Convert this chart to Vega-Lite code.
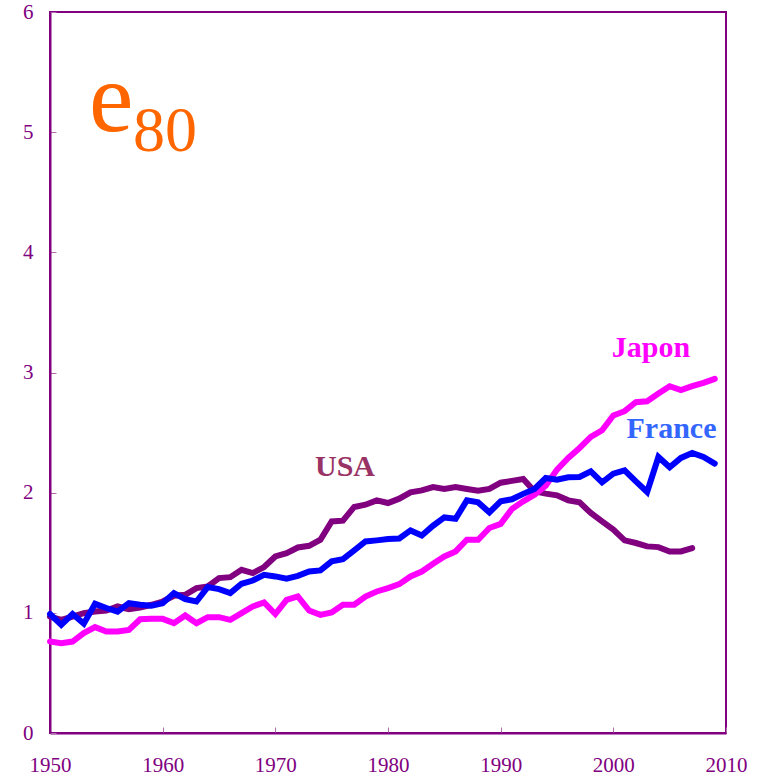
{
  "$schema": "https://vega.github.io/schema/vega-lite/v6.json",
  "width": 676,
  "height": 721,
  "autosize": {"type": "none"},
  "padding": {"left": 50, "top": 12, "right": 34, "bottom": 43},
  "background": "white",
  "config": {
    "view": {"stroke": "#800080", "strokeWidth": 2},
    "axis": {
      "labelFont": "Liberation Serif",
      "labelFontSize": 21,
      "labelColor": "#800080",
      "labelFlush": false,
      "labelOverlap": false,
      "domainColor": "#800080",
      "domainWidth": 2,
      "tickColor": "#b070b0",
      "tickWidth": 1,
      "tickSize": -6,
      "grid": false,
      "title": null
    }
  },
  "datasets": {
    "e": [
      {"year":1950,"France":0.99,"Japon":0.761,"USA":0.969},
      {"year":1951,"France":0.90,"Japon":0.747,"USA":0.942},
      {"year":1952,"France":0.99,"Japon":0.761,"USA":0.969},
      {"year":1953,"France":0.91,"Japon":0.831,"USA":0.997},
      {"year":1954,"France":1.075,"Japon":0.881,"USA":1.011},
      {"year":1955,"France":1.04,"Japon":0.845,"USA":1.019},
      {"year":1956,"France":1.01,"Japon":0.845,"USA":1.053},
      {"year":1957,"France":1.08,"Japon":0.858,"USA":1.031},
      {"year":1958,"France":1.067,"Japon":0.947,"USA":1.044},
      {"year":1959,"France":1.06,"Japon":0.95,"USA":1.067},
      {"year":1960,"France":1.08,"Japon":0.95,"USA":1.094},
      {"year":1961,"France":1.164,"Japon":0.914,"USA":1.142},
      {"year":1962,"France":1.114,"Japon":0.978,"USA":1.15},
      {"year":1963,"France":1.094,"Japon":0.914,"USA":1.206},
      {"year":1964,"France":1.214,"Japon":0.964,"USA":1.219},
      {"year":1965,"France":1.197,"Japon":0.964,"USA":1.289},
      {"year":1966,"France":1.164,"Japon":0.942,"USA":1.297},
      {"year":1967,"France":1.242,"Japon":0.997,"USA":1.358},
      {"year":1968,"France":1.269,"Japon":1.053,"USA":1.331},
      {"year":1969,"France":1.317,"Japon":1.086,"USA":1.381},
      {"year":1970,"France":1.303,"Japon":0.99,"USA":1.469},
      {"year":1971,"France":1.285,"Japon":1.108,"USA":1.497},
      {"year":1972,"France":1.308,"Japon":1.136,"USA":1.544},
      {"year":1973,"France":1.344,"Japon":1.019,"USA":1.558},
      {"year":1974,"France":1.353,"Japon":0.983,"USA":1.608},
      {"year":1975,"France":1.428,"Japon":1.003,"USA":1.761},
      {"year":1976,"France":1.447,"Japon":1.067,"USA":1.767},
      {"year":1977,"France":1.519,"Japon":1.067,"USA":1.881},
      {"year":1978,"France":1.594,"Japon":1.136,"USA":1.9},
      {"year":1979,"France":1.603,"Japon":1.178,"USA":1.936},
      {"year":1980,"France":1.614,"Japon":1.206,"USA":1.914},
      {"year":1981,"France":1.619,"Japon":1.239,"USA":1.95},
      {"year":1982,"France":1.686,"Japon":1.303,"USA":2.003},
      {"year":1983,"France":1.644,"Japon":1.344,"USA":2.019},
      {"year":1984,"France":1.725,"Japon":1.408,"USA":2.047},
      {"year":1985,"France":1.794,"Japon":1.469,"USA":2.031},
      {"year":1986,"France":1.783,"Japon":1.511,"USA":2.047},
      {"year":1987,"France":1.936,"Japon":1.608,"USA":2.031},
      {"year":1988,"France":1.919,"Japon":1.608,"USA":2.017},
      {"year":1989,"France":1.836,"Japon":1.706,"USA":2.031},
      {"year":1990,"France":1.928,"Japon":1.74,"USA":2.083},
      {"year":1991,"France":1.945,"Japon":1.865,"USA":2.098},
      {"year":1992,"France":1.99,"Japon":1.928,"USA":2.114},
      {"year":1993,"France":2.031,"Japon":1.983,"USA":2.011},
      {"year":1994,"France":2.122,"Japon":2.058,"USA":1.992},
      {"year":1995,"France":2.108,"Japon":2.192,"USA":1.978},
      {"year":1996,"France":2.128,"Japon":2.289,"USA":1.936},
      {"year":1997,"France":2.131,"Japon":2.372,"USA":1.919},
      {"year":1998,"France":2.178,"Japon":2.464,"USA":1.831},
      {"year":1999,"France":2.086,"Japon":2.519,"USA":1.761},
      {"year":2000,"France":2.158,"Japon":2.642,"USA":1.692},
      {"year":2001,"France":2.186,"Japon":2.678,"USA":1.603},
      {"year":2002,"France":2.094,"Japon":2.753,"USA":1.581},
      {"year":2003,"France":2.006,"Japon":2.761,"USA":1.553},
      {"year":2004,"France":2.297,"Japon":2.825,"USA":1.547},
      {"year":2005,"France":2.211,"Japon":2.886,"USA":1.511},
      {"year":2006,"France":2.289,"Japon":2.853,"USA":1.511},
      {"year":2007,"France":2.331,"Japon":2.886,"USA":1.539},
      {"year":2008,"France":2.297,"Japon":2.914},
      {"year":2009,"France":2.242,"Japon":2.947}
    ],
    "labels": [
      {"name":"USA","year":1976.18,"v":2.14,"col":"#993366"},
      {"name":"Japon","year":2003.34,"v":3.125,"col":"#FF00FF"},
      {"name":"France","year":2005.16,"v":2.458,"col":"#3366FF"}
    ]
  },
  "layer": [
    {
      "data": {"name": "e"},
      "mark": {"type": "line", "color": "#800080", "strokeWidth": 6, "strokeCap": "round"},
      "encoding": {
        "x": {"field": "year", "type": "quantitative",
              "scale": {"domain": [1950, 2010], "nice": false, "zero": false},
              "axis": {"values": [1950,1960,1970,1980,1990,2000,2010], "format": "d", "labelPadding": 27}},
        "y": {"field": "USA", "type": "quantitative",
              "scale": {"domain": [0, 6], "nice": false},
              "axis": {"values": [0,1,2,3,4,5,6], "format": "d", "labelPadding": 23}}
      }
    },
    {
      "data": {"name": "e"},
      "mark": {"type": "line", "color": "#FF00FF", "strokeWidth": 6, "strokeCap": "round"},
      "encoding": {
        "x": {"field": "year", "type": "quantitative"},
        "y": {"field": "Japon", "type": "quantitative"}
      }
    },
    {
      "data": {"name": "e"},
      "mark": {"type": "line", "color": "#0000FF", "strokeWidth": 6, "strokeCap": "round"},
      "encoding": {
        "x": {"field": "year", "type": "quantitative"},
        "y": {"field": "France", "type": "quantitative"}
      }
    },
    {
      "data": {"name": "labels"},
      "mark": {"type": "text", "font": "Liberation Serif", "fontWeight": "bold", "fontSize": 30, "align": "center", "baseline": "alphabetic"},
      "encoding": {
        "x": {"field": "year", "type": "quantitative"},
        "y": {"field": "v", "type": "quantitative"},
        "text": {"field": "name"},
        "color": {"field": "col", "type": "nominal", "scale": null}
      }
    },
    {
      "data": {"values": [{"t": "e", "year": 1953.46, "v": 5.01}]},
      "mark": {"type": "text", "font": "Liberation Serif", "fontSize": 100, "align": "left", "baseline": "alphabetic", "color": "#FF6600"},
      "encoding": {
        "x": {"field": "year", "type": "quantitative"},
        "y": {"field": "v", "type": "quantitative"},
        "text": {"field": "t"}
      }
    },
    {
      "data": {"values": [{"t": "80", "year": 1957.37, "v": 4.84}]},
      "mark": {"type": "text", "font": "Liberation Serif", "fontSize": 64, "align": "left", "baseline": "alphabetic", "color": "#FF6600"},
      "encoding": {
        "x": {"field": "year", "type": "quantitative"},
        "y": {"field": "v", "type": "quantitative"},
        "text": {"field": "t"}
      }
    }
  ]
}
